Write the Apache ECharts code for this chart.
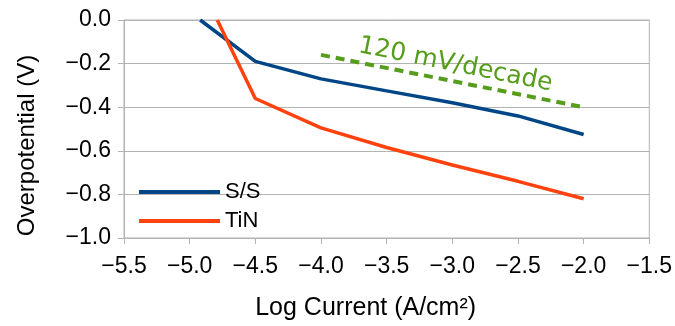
<!DOCTYPE html>
<html>
<head>
<meta charset="utf-8">
<script src="https://cdn.jsdelivr.net/npm/echarts@6/dist/echarts.min.js"></script>
<style>
  html, body { margin: 0; padding: 0; background: #fff; }
  #chart { width: 675px; height: 326px; }
</style>
</head>
<body>
<div id="chart"></div>
<script>
// Log current (x) and overpotential (y)
const ssLogCurrent = [-4.92, -4.5, -4.0, -3.5, -3.0, -2.5, -2.0]
const ssOverpotential = [0, -0.19, -0.27, -0.325, -0.38, -0.44, -0.525]
const tinLogCurrent = [-4.79, -4.5, -4.0, -3.5, -3.0, -2.5, -2.0]
const tinOverpotential = [0, -0.36, -0.495, -0.585, -0.665, -0.74, -0.82]
const slopeLogCurrent = [-4.0, -2.0]
const slopeOverpotential = [-0.16, -0.40]
const slopeLabel = '120 mV/decade'

const pairs = (xs, ys) => xs.map((x, i) => [x, ys[i]])
const minus = (s) => s.replace('-', '\u2212')

const font = 'Liberation Sans'
const chart = echarts.init(document.getElementById('chart'))

chart.setOption({
  animation: false,
  backgroundColor: '#fff',
  textStyle: { fontFamily: font, color: '#000' },
  grid: {
    left: 124, right: 24, top: 20, bottom: 84,
    show: true, borderColor: '#b3b3b3', borderWidth: 1,
  },
  legend: {
    data: ['S/S', 'TiN'],
    orient: 'vertical',
    left: 139,
    top: 181,
    padding: 0,
    icon: 'rect',
    itemWidth: 81,
    itemHeight: 4,
    itemGap: 7,
    textStyle: { fontFamily: font, fontSize: 22, color: '#000' },
  },
  xAxis: {
    type: 'value',
    min: -5.5,
    max: -1.5,
    interval: 0.5,
    name: 'Log Current (A/cm²)',
    nameLocation: 'middle',
    nameGap: 58,
    nameTextStyle: { fontFamily: font, fontSize: 25, color: '#000', padding: [0, 42, 0, 0] },
    axisLine: { show: true, onZero: false, lineStyle: { color: '#b3b3b3' } },
    axisTick: { show: true, length: 6, lineStyle: { color: '#b3b3b3' } },
    axisLabel: {
      fontSize: 23, color: '#000', margin: 17,
      formatter: (v) => minus(v.toFixed(1)),
    },
    splitLine: { show: false },
  },
  yAxis: {
    type: 'value',
    min: -1,
    max: 0,
    interval: 0.2,
    name: 'Overpotential (V)',
    nameLocation: 'middle',
    nameGap: 85,
    nameTextStyle: { fontFamily: font, fontSize: 24, color: '#000', padding: [0, 33, 0, 0] },
    axisLine: { show: true, onZero: false, lineStyle: { color: '#b3b3b3' } },
    axisTick: { show: true, length: 6, lineStyle: { color: '#b3b3b3' } },
    axisLabel: {
      fontSize: 23, color: '#000', margin: 13,
      formatter: (v) => minus(v.toFixed(1)),
    },
    splitLine: { show: true, lineStyle: { color: '#b3b3b3', width: 1 } },
  },
  series: [
    {
      name: 'S/S',
      type: 'line',
      color: '#004586',
      symbol: 'none',
      data: pairs(ssLogCurrent, ssOverpotential),
      lineStyle: { color: '#004586', width: 3.5 },
    },
    {
      name: 'TiN',
      type: 'line',
      color: '#ff420e',
      symbol: 'none',
      data: pairs(tinLogCurrent, tinOverpotential),
      lineStyle: { color: '#ff420e', width: 3.5 },
    },
    {
      name: 'slope',
      type: 'line',
      color: '#579d1c',
      symbol: 'none',
      silent: true,
      data: pairs(slopeLogCurrent, slopeOverpotential),
      lineStyle: { color: '#579d1c', width: 4, type: [9, 6] },
      markLine: {
        silent: true,
        symbol: 'none',
        lineStyle: { color: 'rgba(0,0,0,0)', width: 1, type: 'solid' },
        label: {
          show: true,
          position: 'insideMiddleTop',
          distance: 4,
          formatter: slopeLabel,
          fontFamily: 'DejaVu Sans',
          fontSize: 25,
          color: '#579d1c',
        },
        data: [[
          { coord: [slopeLogCurrent[0], slopeOverpotential[0]] },
          { coord: [slopeLogCurrent[1], slopeOverpotential[1]] },
        ]],
      },
    },
  ],
})
</script>
</body>
</html>
